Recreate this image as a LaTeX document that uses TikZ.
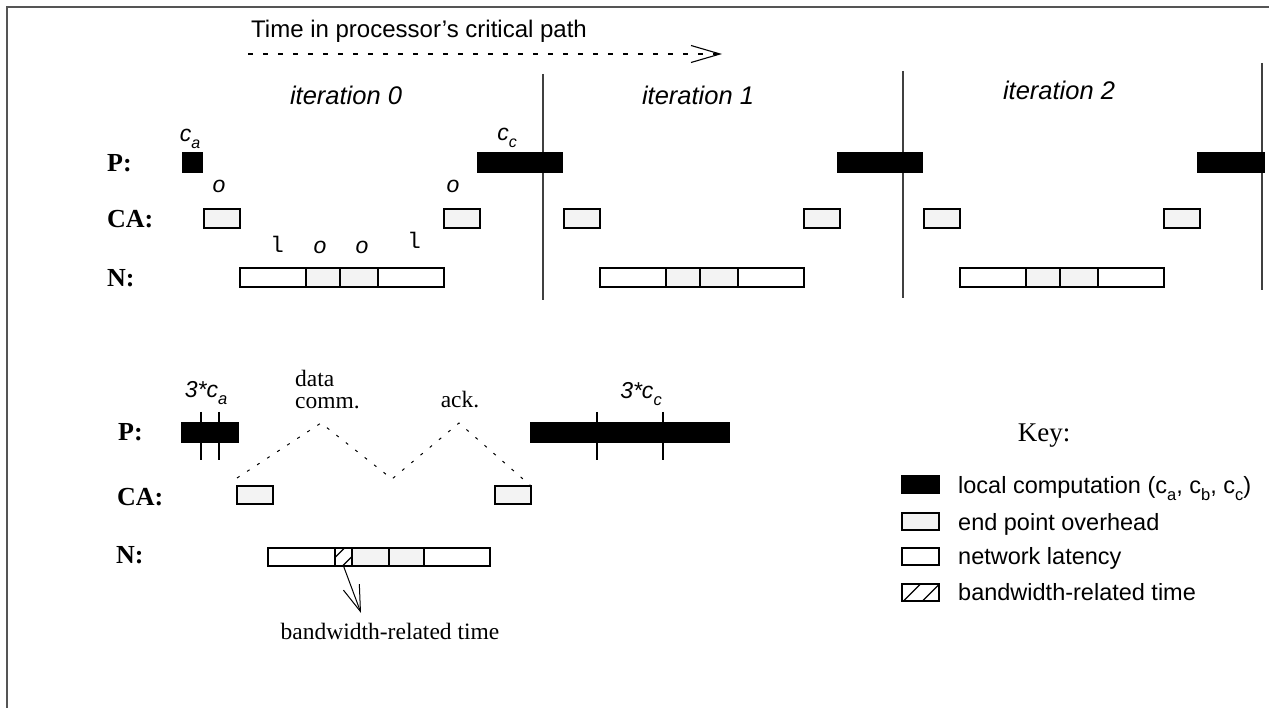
\documentclass[tikz,border=0pt]{standalone}
\usepackage{fontspec}
\setmainfont{Liberation Serif}
\setsansfont{Liberation Sans}
\setmonofont{Liberation Mono}
\usetikzlibrary{arrows.meta}
\definecolor{epo}{HTML}{F3F3F3}
\definecolor{frm}{HTML}{555555}
\newcommand\fs[1]{\fontsize{#1}{#1}\selectfont}
\newcommand\lowsub[2]{\raisebox{-0.3em}{\fs{#1}#2}}
% N bar of the top rows: four segments starting at x=#2
\newcommand\nbar[2]{%
  \node[lat,minimum width=66pt,minimum height=19pt] (#1a) at (#2,268) {};
  \node[ovh,minimum width=34pt,minimum height=19pt] (#1b) at (#2+66,268) {};
  \node[ovh,minimum width=38pt,minimum height=19pt] (#1c) at (#2+100,268) {};
  \node[lat,minimum width=66pt,minimum height=19pt] (#1d) at (#2+138,268) {};}
\begin{document}
\begin{tikzpicture}[x=1pt,y=-1pt,
  box/.style={draw=black,line width=1.1pt,inner sep=0pt,outer sep=0pt,anchor=north west},
  comp/.style={box,fill=black},
  ovh/.style={box,fill=epo},
  lat/.style={box,fill=white},
  sepline/.style={draw=black!75,line width=1.4pt},
  tick/.style={draw=black,line width=1.2pt},
  rowlab/.style={font=\fs{26}\bfseries,anchor=base west,inner sep=0pt},
  itlab/.style={font=\fs{25.5}\sffamily\itshape,anchor=base,inner sep=0pt},
  small/.style={font=\fs{23}\sffamily\itshape,anchor=base,inner sep=0pt},
  monolab/.style={font=\fs{22.5}\ttfamily,anchor=base,inner sep=0pt},
  serif/.style={font=\fs{23.5},anchor=base,inner sep=0pt},
  legtext/.style={font=\fs{23.5}\sffamily,anchor=base west,inner sep=0pt},
  zig/.style={draw=black,line width=1pt,dash pattern=on 3pt off 9pt},
]
\useasboundingbox (0,0) rectangle (1269,708);
% frame
\draw[frm,line width=1.5pt] (1269,7) -- (7,7) -- (7,708);

% title and time arrow
\node[font=\fs{24}\sffamily,anchor=base west,inner sep=0pt] (title) at (251,38) {Time in processor’s critical path};
\coordinate (ts) at (248,54);
\coordinate (te) at (722,54);
\draw[line width=1.1pt,dash pattern=on 5pt off 10pt,-{Straight Barb[length=29pt,width=17pt]}] (ts) -- (te);

% iteration labels
\node[itlab] (it0) at (346,105) {iteration 0};
\node[itlab] (it1) at (698,105) {iteration 1};
\node[itlab] (it2) at (1059,100) {iteration 2};

% iteration separators
\draw[sepline] (543,74) -- (543,300);
\draw[sepline] (903,71) -- (903,298);
\draw[sepline] (1262,63) -- (1262,290);

% row labels (top)
\node[rowlab] (lp) at (107,172) {P:};
\node[rowlab] (lca) at (107,228) {CA:};
\node[rowlab] (ln) at (107,287) {N:};

% P row (top)
\node[comp,minimum width=19pt,minimum height=19pt] (pa0) at (183,153) {};
\node[comp,minimum width=84pt,minimum height=19pt] (pc0) at (478,153) {};
\node[comp,minimum width=84pt,minimum height=19pt] (pc1) at (838,153) {};
\node[comp,minimum width=66pt,minimum height=19pt] (pc2) at (1198,153) {};

% CA row (top)
\node[ovh,minimum width=36pt,minimum height=19pt] (ca0a) at (204,209) {};
\node[ovh,minimum width=36pt,minimum height=19pt] (ca0b) at (444,209) {};
\node[ovh,minimum width=36pt,minimum height=19pt] (ca1a) at (564,209) {};
\node[ovh,minimum width=36pt,minimum height=19pt] (ca1b) at (804,209) {};
\node[ovh,minimum width=36pt,minimum height=19pt] (ca2a) at (924,209) {};
\node[ovh,minimum width=36pt,minimum height=19pt] (ca2b) at (1164,209) {};

% N row (top)
\nbar{n0}{240}
\nbar{n1}{600}
\nbar{n2}{960}

% small labels (top)
\node[small] (lca0) at (190,142) {c\lowsub{16}{a}};
\node[small] (lcc0) at (507,141) {c\lowsub{16}{c}};
\node[small] (lo1) at (219,193) {o};
\node[small] (lo2) at (453,193) {o};
\node[monolab] (ll1) at (277,253) {l};
\node[small] (lo3) at (320,254) {o};
\node[small] (lo4) at (362,254) {o};
\node[monolab] (ll2) at (414,249) {l};

% ---------------- bottom ----------------
\node[rowlab] (blp) at (118,440) {P:};
\node[rowlab] (blca) at (117,505) {CA:};
\node[rowlab] (bln) at (116,563) {N:};

\node[comp,minimum width=56pt,minimum height=19pt] (bpa) at (182,423) {};
\draw[tick] (201,412) -- (201,460);
\draw[tick] (219,412) -- (219,460);
\node[comp,minimum width=198pt,minimum height=19pt] (bpc) at (531,423) {};
\draw[tick] (597,412) -- (597,460);
\draw[tick] (663,412) -- (663,460);

\node[font=\fs{23}\sffamily\itshape,anchor=base,inner sep=0pt] (l3ca) at (206,398) {3*c\lowsub{16.5}{a}};
\node[font=\fs{23}\sffamily\itshape,anchor=base,inner sep=0pt] (l3cc) at (641,399) {3*c\lowsub{16.5}{c}};

\node[ovh,minimum width=36pt,minimum height=18pt] (bca1) at (237,486) {};
\node[ovh,minimum width=36pt,minimum height=18pt] (bca2) at (495,486) {};

\node[lat,minimum width=67pt,minimum height=18pt] (bna) at (268,548) {};
\node[lat,minimum width=17pt,minimum height=18pt] (bnh) at (335,548) {};
\node[ovh,minimum width=37pt,minimum height=18pt] (bnb) at (352,548) {};
\node[ovh,minimum width=35pt,minimum height=18pt] (bnc) at (389,548) {};
\node[lat,minimum width=66pt,minimum height=18pt] (bnd) at (424,548) {};
\draw[line width=1.4pt] (335.5,557) -- (344,548.5);
\draw[line width=1.4pt] (343,565.5) -- (351.5,557);

% message zigzag
\coordinate (z0) at (237,478);
\coordinate (z1) at (321,423);
\coordinate (z2) at (392,479);
\coordinate (z3) at (459,423);
\draw[zig] (z0) -- (z1) -- (z2) -- (z3) -- (bca2.north east);

\node[serif,anchor=base west] (ldata) at (295,387) {data};
\node[serif,anchor=base west] (lcomm) at (295,409) {comm.};
\node[serif] (lack) at (460,408) {ack.};

% bandwidth arrow
\coordinate (bwtip) at (361,613);
\draw[line width=1pt,-{Straight Barb[length=26pt,width=17pt]}] (bnh.south) -- (bwtip);
\node[serif] (lbw) at (390,639) {bandwidth-related time};

% ---------------- key ----------------
\node[font=\fs{27},anchor=base,inner sep=0pt] (key) at (1044,441) {Key:};
\node[comp,minimum width=37pt,minimum height=17pt] (k1) at (902,476) {};
\node[ovh,minimum width=37pt,minimum height=17pt] (k2) at (902,513) {};
\node[lat,minimum width=37pt,minimum height=17pt] (k3) at (902,548) {};
\node[lat,minimum width=37pt,minimum height=17pt] (k4) at (902,584) {};
\draw[line width=1.3pt] (904,600.5) -- (920,584.5);
\draw[line width=1.3pt] (923,600.5) -- (938.5,585);
\node[legtext] (kt1) at (958,493) {local computation (c\lowsub{16.5}{a}, c\lowsub{16.5}{b}, c\lowsub{16.5}{c})};
\node[legtext] (kt2) at (958,530) {end point overhead};
\node[legtext] (kt3) at (958,564) {network latency};
\node[legtext] (kt4) at (958,600) {bandwidth-related time};
\end{tikzpicture}
\end{document}
